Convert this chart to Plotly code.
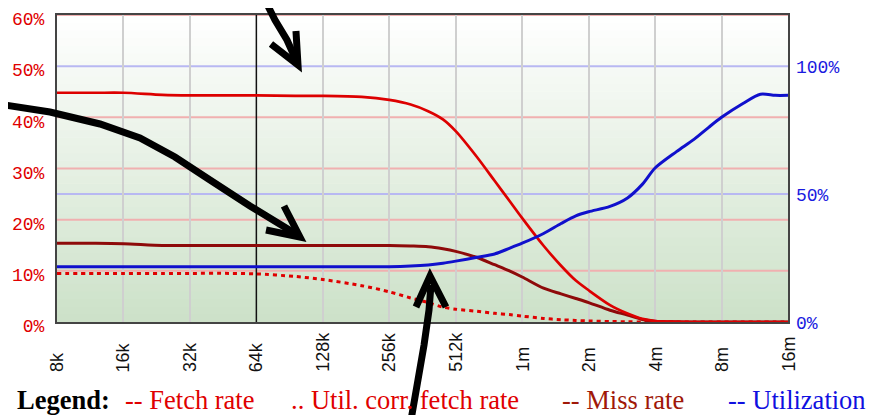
import math
import plotly.graph_objects as go

# ---------------- data ----------------
size_kb = [8, 12, 16, 24, 32, 48, 64, 96, 128, 192, 256, 320, 384, 448, 512,
           640, 768, 896, 1024, 1280, 1536, 1792, 2048, 2560, 3072, 3584, 4096,
           5120, 6144, 7168, 8192, 10240, 12288, 14336, 16384]

fetch_rate = [44.8, 44.8, 44.8, 44.4, 44.3, 44.3, 44.3, 44.2, 44.2, 44.0, 43.4,
              42.5, 41.2, 39.6, 37.3, 32.2, 27.6, 23.7, 20.3, 14.9, 11.0, 8.1,
              6.2, 3.3, 1.65, 0.6, 0.2, 0.05, 0, 0, 0, 0, 0, 0, 0]

util_corr_fetch = [9.5, 9.5, 9.5, 9.5, 9.5, 9.5, 9.4, 8.9, 8.3, 7.1, 5.9,
                   4.7, 3.8, 2.9, 2.5, 2.1, 1.7, 1.45, 1.15, 0.7, 0.45, 0.3,
                   0.2, 0.1, 0.05, 0, 0, 0, 0, 0, 0, 0, 0, 0, 0]

miss_rate = [15.4, 15.4, 15.3, 14.95, 14.95, 14.95, 14.95, 14.95, 14.95, 14.95, 14.95,
             14.85, 14.7, 14.3, 13.8, 12.6, 11.2, 10.0, 8.8, 6.6, 5.5, 4.6,
             3.8, 2.3, 1.35, 0.5, 0.15, 0.03, 0, 0, 0, 0, 0, 0, 0]

utilization = [21.6, 21.6, 21.6, 21.6, 21.6, 21.6, 21.6, 21.6, 21.6, 21.6, 21.6,
               21.85, 22.3, 23.0, 23.8, 25.3, 26.6, 28.8, 30.8, 34.6, 38.5, 41.5,
               43.1, 45.2, 48.5, 53.8, 60.2, 66.6, 71.4, 76.1, 80.0, 85.4, 89.0,
               88.6, 88.6]

tick_kb = [8, 16, 32, 64, 128, 256, 512, 1024, 2048, 4096, 8192, 16384]
tick_labels = ["8k", "16k", "32k", "64k", "128k", "256k", "512k",
               "1m", "2m", "4m", "8m", "16m"]
marker_kb = 64
left_ticks = [0, 10, 20, 30, 40, 50, 60]
right_ticks = [0, 50, 100]
left_grid = [10, 20, 30, 40, 60]
right_grid = [50, 100]

legend_items = [("<b>Legend:</b>", "#000000"),
                ("-- Fetch rate", "#e00000"),
                (".. Util. corr. fetch rate", "#e00000"),
                ("-- Miss rate", "#a01808"),
                ("-- Utilization", "#1010e0")]
legend_x_px = [15, 123, 289, 560, 726]

# ---------------- layout geometry (reference pixels) ----------------
PAGE_OFF = 8          # default body margin of the page
W, H = 875, 415
L, R, T, B = 57, 788, 15, 322
PW, PH = R - L, B - T


def px(x):
    return (x - L) / PW


def py(y):
    return (B - y) / PH


x_bytes = [s * 1024 for s in size_kb]
tick_bytes = [s * 1024 for s in tick_kb]
xr0 = math.log10(tick_bytes[0])
xr1 = math.log10(tick_bytes[-1])

fig = go.Figure()

spl = dict(shape="spline", smoothing=0.8)
fig.add_trace(go.Scatter(x=x_bytes, y=util_corr_fetch, mode="lines",
                         line=dict(color="#e00000", width=3, dash="4px,4px", **spl),
                         name="Util. corr. fetch rate"))
fig.add_trace(go.Scatter(x=x_bytes, y=miss_rate, mode="lines",
                         line=dict(color="#8e0a0a", width=3, **spl),
                         name="Miss rate"))
fig.add_trace(go.Scatter(x=x_bytes, y=fetch_rate, mode="lines",
                         line=dict(color="#dd0000", width=2.7, **spl),
                         name="Fetch rate"))
fig.add_trace(go.Scatter(x=x_bytes, y=utilization, mode="lines", yaxis="y2",
                         line=dict(color="#1010cc", width=3, **spl),
                         name="Utilization"))

shapes = []
# background gradient (top white -> bottom light green)
N = 40
top = (255, 255, 255)
bot = (204, 225, 200)
for i in range(N):
    f = (i + 0.5) / N
    c = tuple(int(round(bot[k] + (top[k] - bot[k]) * f)) for k in range(3))
    shapes.append(dict(type="rect", xref="paper", yref="paper",
                       x0=0, x1=1, y0=i / N, y1=(i + 1) / N + 0.002,
                       fillcolor="rgb(%d,%d,%d)" % c, line=dict(width=0),
                       layer="below"))
# horizontal grid lines
for v in left_grid:
    shapes.append(dict(type="line", xref="paper", yref="y", x0=0, x1=1, y0=v, y1=v,
                       line=dict(color="#f0b0b0", width=2), layer="below"))
for v in right_grid:
    shapes.append(dict(type="line", xref="paper", yref="y2", x0=0, x1=1, y0=v, y1=v,
                       line=dict(color="#b8b8f2", width=2), layer="below"))
# marker line at 64k
xm = (math.log10(marker_kb * 1024) - xr0) / (xr1 - xr0)
shapes.append(dict(type="line", xref="paper", yref="paper", x0=xm, x1=xm, y0=0, y1=1,
                   line=dict(color="#111111", width=1.5), layer="below"))


def path_of(points):
    return "M " + " L ".join("%.4f,%.4f" % (px(a), py(b)) for a, b in points)


arrows = [
    [(262, -6), (275, 20), (287, 40), (296, 60)],
    [(271, 44), (298, 65), (296, 31)],
    [(-2, 104), (50, 112), (100, 124), (140, 138), (175, 157), (210, 180),
     (250, 206), (296, 234)],
    [(266, 230), (300, 237), (284, 206)],
    [(411, 420), (418, 380), (424, 345), (429, 310), (431, 285)],
    [(416, 307), (430, 276), (446, 307)],
]
for pts in arrows:
    shapes.append(dict(type="path", xref="paper", yref="paper", path=path_of(pts),
                       line=dict(color="#000000", width=7), layer="above"))

annotations = []
for v, lab in zip(tick_bytes, tick_labels):
    annotations.append(dict(x=math.log10(v), xref="x", y=py(374), yref="paper",
                            text=lab, showarrow=False, textangle=-90,
                            xanchor="center", yanchor="bottom",
                            font=dict(family="Liberation Sans", size=18, color="#111111")))
for (txt, col), xp in zip(legend_items, legend_x_px):
    annotations.append(dict(x=px(xp), xref="paper", y=py(400), yref="paper",
                            text=txt, showarrow=False, xanchor="left", yanchor="middle",
                            font=dict(family="Liberation Serif", size=26.5, color=col)))

fig.update_layout(
    template="none",
    width=W - PAGE_OFF, height=H - PAGE_OFF,
    margin=dict(l=L - PAGE_OFF, r=W - R, t=T - PAGE_OFF, b=H - B, pad=0),
    paper_bgcolor="white",
    plot_bgcolor="rgba(0,0,0,0)",
    showlegend=False,
    shapes=shapes,
    annotations=annotations,
    xaxis=dict(type="log", range=[xr0, xr1],
               tickvals=[v for v, k in zip(tick_bytes, tick_kb) if k != marker_kb],
               showticklabels=False, ticks="",
               showgrid=True, gridcolor="#cfcfcf", gridwidth=1.5,
               showline=True, mirror=True, linecolor="#444444", linewidth=2,
               zeroline=False, automargin=False),
    yaxis=dict(range=[0, 60], tickvals=left_ticks,
               ticktext=["%d%%" % v for v in left_ticks], ticks="",
               ticklabelstandoff=7, ticklabeloverflow="allow", ticklabelshift=4,
               tickfont=dict(family="Liberation Mono", size=18, color="#e00000"),
               showgrid=False, zeroline=False,
               showline=True, mirror=True, linecolor="#444444", linewidth=2,
               automargin=False),
    yaxis2=dict(range=[0, 120], tickvals=right_ticks,
                ticktext=["%d%%" % v for v in right_ticks], ticks="",
                overlaying="y", side="right", ticklabelstandoff=7,
                ticklabeloverflow="allow", ticklabelshift=1,
                tickfont=dict(family="Liberation Mono", size=18, color="#1a1ae0"),
                showgrid=False, zeroline=False, showline=False, automargin=False),
)

fig.write_html("out.html")
